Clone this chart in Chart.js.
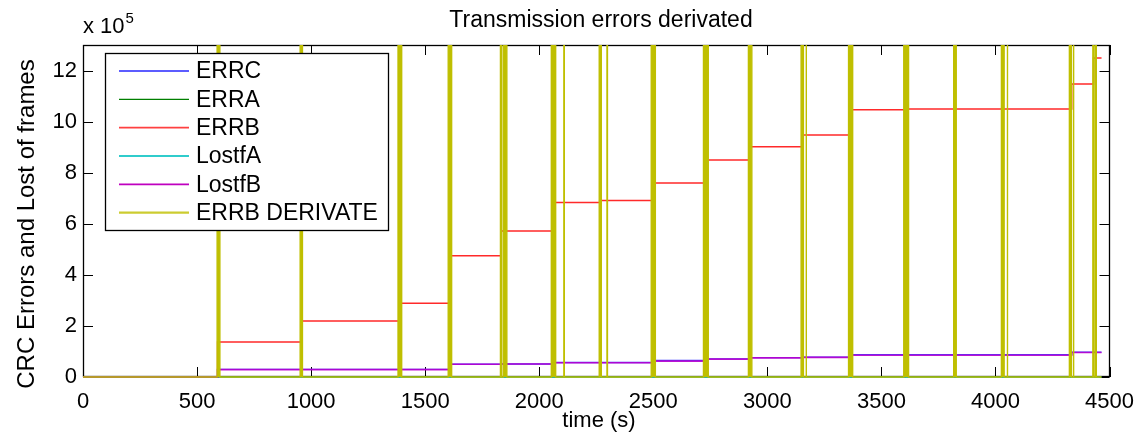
<!DOCTYPE html>
<html><head><meta charset="utf-8">
<script src="https://cdn.jsdelivr.net/npm/chart.js@4.4.1/dist/chart.umd.min.js"></script>
<style>html,body{margin:0;padding:0;background:#fff;}#wrap{width:1146px;height:438px;}</style>
</head><body><div id="wrap"><canvas id="c" width="1146" height="438"></canvas></div>
<script>
const chartTitle = 'Transmission errors derivated';
const xAxisTitle = 'time (s)';
const yAxisTitle = 'CRC Errors and Lost of frames';
const xTickValues = [0, 500, 1000, 1500, 2000, 2500, 3000, 3500, 4000, 4500];
const yTickLabels = [0, 2, 4, 6, 8, 10, 12];   // shown in units of 10^5
const yExponent = 5;
const seriesNames = ['ERRC', 'ERRA', 'ERRB', 'LostfA', 'LostfB', 'ERRB DERIVATE'];

// times (s) at which the cumulative counters change, and the value held from that time on
const stepTimes   = [0, 590, 958, 1392, 1608, 1833, 2055, 2265, 2495, 2722, 2920, 3152, 3360, 3610, 4334, 4430, 4465];
const errcValues  = [0, 0.30e5, 0.30e5, 0.30e5, 0.50e5, 0.51e5, 0.57e5, 0.57e5, 0.645e5, 0.71e5, 0.76e5, 0.78e5, 0.875e5, 0.875e5, 0.975e5, 0.975e5, 0.975e5];
const erraValues  = [0, 0, 0, 0, 0, 0, 0, 0, 0, 0, 0, 0, 0, 0, 0, 0, 0];
const errbValues  = [0, 1.37e5, 2.19e5, 2.89e5, 4.75e5, 5.72e5, 6.83e5, 6.91e5, 7.60e5, 8.50e5, 9.02e5, 9.48e5, 10.46e5, 10.49e5, 11.47e5, 12.49e5, 12.49e5];
const lostfAValues = [0, 0, 0, 0, 0, 0, 0, 0, 0, 0, 0, 0, 0, 0, 0, 0, 0];
const lostfBValues = [0, 0.29e5, 0.29e5, 0.29e5, 0.50e5, 0.51e5, 0.56e5, 0.56e5, 0.62e5, 0.70e5, 0.75e5, 0.77e5, 0.85e5, 0.85e5, 0.96e5, 0.96e5, 0.96e5];

// ERRB derivative: pulses (start, end in s) whose height goes far off the axis
const spikeStart = [588, 952, 1381, 1601, 1830, 1842, 2053, 2108, 2263, 2297, 2491, 2720, 2917, 3148, 3170, 3356, 3598, 3817, 4026, 4052, 4324, 4342, 4427, 4436];
const spikeEnd   = [600, 962, 1397, 1616, 1834, 1858, 2072, 2110, 2272, 2299, 2509, 2741, 2932, 3158, 3171, 3374, 3619, 3828, 4038, 4053, 4333, 4343, 4429, 4442];
const spikePeak  = [3e6, 3e6, 3e6, 3e6, 3e6, 3e6, 3e6, 3e6, 3e6, 3e6, 3e6, 3e6, 3e6, 3e6, 3e6, 3e6, 3e6, 3e6, 3e6, 3e6, 3e6, 3e6, 3e6, 3e6];
const derivEndTime = 4465;

const FONT = '"Liberation Sans", Arial, Helvetica, sans-serif';
const toPts = vals => stepTimes.map((t, i) => ({x: t, y: vals[i]}));
const derivPts = [{x: 0, y: 0}];
spikeStart.forEach((s, i) => {
  derivPts.push({x: s, y: 0}, {x: s, y: spikePeak[i]}, {x: spikeEnd[i], y: spikePeak[i]}, {x: spikeEnd[i], y: 0});
});
derivPts.push({x: derivEndTime, y: 0});

const base = {pointRadius: 0, fill: false, tension: 0, clip: {left: 0, top: 0, right: 0, bottom: 2}};
const datasets = [
  Object.assign({}, base, {label: seriesNames[0], data: toPts(errcValues), stepped: true, borderColor: '#3c3cff', legendColor: '#5c5cff', legendWidth: 2.2, borderWidth: 1.4, order: 6}),
  Object.assign({}, base, {label: seriesNames[1], data: toPts(erraValues), stepped: true, borderColor: '#007f00', legendColor: '#007f00', legendWidth: 1.2, borderWidth: 1.0, order: 5}),
  Object.assign({}, base, {label: seriesNames[2], data: toPts(errbValues), stepped: true, borderColor: '#ff2a2a', legendColor: '#ff4040', legendWidth: 1.8, borderWidth: 1.5, order: 4}),
  Object.assign({}, base, {label: seriesNames[3], data: toPts(lostfAValues), stepped: true, borderColor: '#00bfbf', legendColor: '#30cccc', legendWidth: 2.2, borderWidth: 1.0, order: 3}),
  Object.assign({}, base, {label: seriesNames[4], data: toPts(lostfBValues), stepped: true, borderColor: 'rgba(185,0,205,0.9)', legendColor: '#bf00bf', legendWidth: 1.8, borderWidth: 1.6, order: 2}),
  Object.assign({}, base, {label: seriesNames[5], data: derivPts, borderColor: '#bfbf00', backgroundColor: '#bfbf00', legendColor: '#cccc30', legendWidth: 2.2, fill: 'origin', borderWidth: 1.4, order: 1})
];

const framePlugin = {
  id: 'frame',
  beforeDatasetsDraw(chart) {
    const {ctx, chartArea: a, scales: {x, y}} = chart;
    ctx.save();
    ctx.strokeStyle = '#000';
    ctx.lineWidth = 1;
    ctx.beginPath();
    x.ticks.forEach(t => {
      const px = Math.round(x.getPixelForValue(t.value)) + 0.5;
      ctx.moveTo(px, a.bottom); ctx.lineTo(px, a.bottom - 10);
      ctx.moveTo(px, a.top); ctx.lineTo(px, a.top + 10);
    });
    y.ticks.forEach(t => {
      const py = Math.round(y.getPixelForValue(t.value)) + 0.5;
      ctx.moveTo(a.left, py); ctx.lineTo(a.left + 10, py);
      ctx.moveTo(a.right, py); ctx.lineTo(a.right - 10, py);
    });
    ctx.stroke();
    ctx.lineWidth = 1.3;
    ctx.strokeRect(Math.round(a.left) + 0.5, Math.round(a.top) + 0.5, Math.round(a.right - a.left) - 1, Math.round(a.bottom - a.top) - 1);
    ctx.restore();
  },
  afterDatasetsDraw(chart) {
    const {ctx} = chart;
    // legend box inside the axes
    const lx = 105, ly = 53, lw = 283, lh = 177, rowH = 28.33;
    ctx.save();
    ctx.fillStyle = '#fff';
    ctx.fillRect(lx, ly, lw, lh);
    ctx.strokeStyle = '#000';
    ctx.lineWidth = 1.3;
    ctx.strokeRect(lx + 0.5, ly + 0.5, lw, lh);
    ctx.font = '23px ' + FONT;
    ctx.textBaseline = 'middle';
    ctx.textAlign = 'left';
    chart.data.datasets.forEach((ds, i) => {
      const cy = ly + 18 + i * rowH;
      ctx.strokeStyle = ds.legendColor;
      ctx.lineWidth = ds.legendWidth;
      ctx.beginPath();
      ctx.moveTo(119, cy); ctx.lineTo(189, cy);
      ctx.stroke();
      ctx.fillStyle = '#000';
      ctx.fillText(ds.label, 196, cy + 1);
    });
    ctx.restore();
  },
  afterDraw(chart) {
    const {ctx} = chart;
    ctx.save();
    ctx.fillStyle = '#000';
    ctx.textBaseline = 'alphabetic';
    ctx.font = '23px ' + FONT;
    ctx.textAlign = 'center';
    ctx.fillText(chartTitle, 601, 27);
    ctx.font = '22px ' + FONT;
    ctx.fillText(xAxisTitle, 599, 427);
    ctx.textAlign = 'left';
    ctx.fillText('x 10', 83, 33);
    const w = ctx.measureText('x 10').width;
    ctx.font = '15px ' + FONT;
    ctx.fillText(String(yExponent), 83 + w + 1, 23);
    ctx.font = '24px ' + FONT;
    ctx.translate(34, 224);
    ctx.rotate(-Math.PI / 2);
    ctx.textAlign = 'center';
    ctx.fillText(yAxisTitle, 0, 0);
    ctx.restore();
  }
};

new Chart(document.getElementById('c'), {
  type: 'line',
  data: {datasets},
  options: {
    responsive: false,
    animation: false,
    events: [],
    devicePixelRatio: 1,
    layout: {padding: {top: 45, right: 29, left: 0, bottom: 0}},
    plugins: {legend: {display: false}, tooltip: {enabled: false}, title: {display: false}},
    scales: {
      x: {
        type: 'linear', min: 0, max: 4500,
        grid: {display: false, drawTicks: false},
        border: {display: false},
        afterBuildTicks: s => { s.ticks = xTickValues.map(v => ({value: v})); },
        afterFit: s => { s.height = 61; },
        ticks: {color: '#000', font: {family: FONT, size: 22}, padding: 12, maxRotation: 0, autoSkip: false,
          callback: v => String(v)}
      },
      y: {
        type: 'linear', min: 0, max: 13e5,
        grid: {display: false, drawTicks: false},
        border: {display: false},
        afterBuildTicks: s => { s.ticks = yTickLabels.map(v => ({value: v * Math.pow(10, yExponent)})); },
        afterFit: s => { s.width = 83; },
        ticks: {color: '#000', font: {family: FONT, size: 22}, padding: 6, autoSkip: false,
          callback: v => String(Math.round(v / Math.pow(10, yExponent)))}
      }
    }
  },
  plugins: [framePlugin]
});
</script></body></html>
